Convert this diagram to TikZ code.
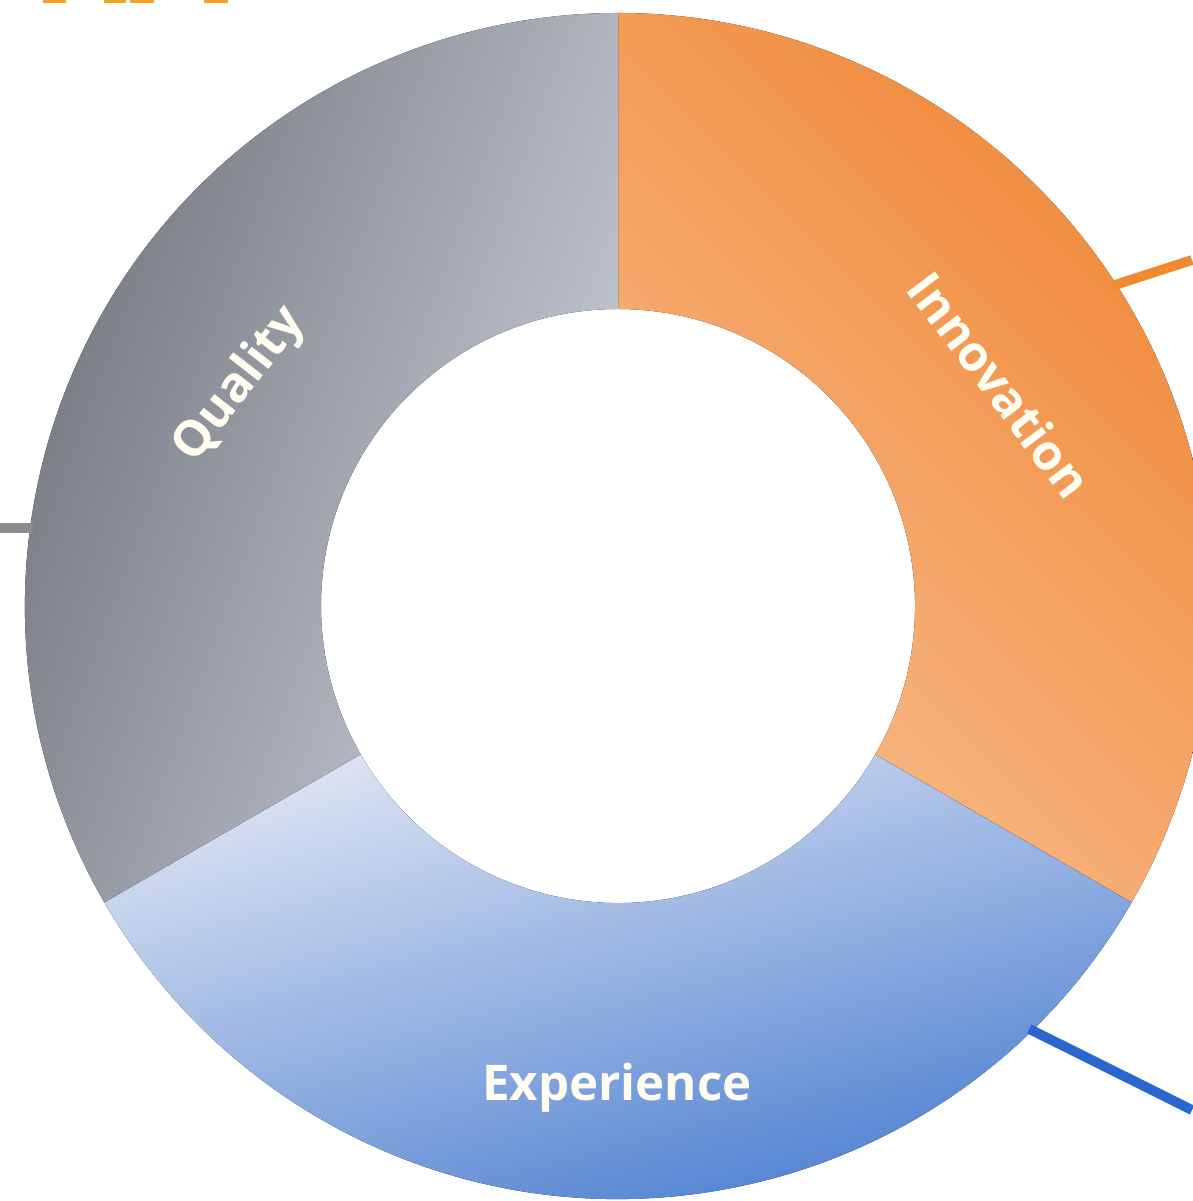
\documentclass[tikz,border=0pt]{standalone}
\usepackage{fontspec}
\setmainfont{Open Sans}

\definecolor{innoScuro}{HTML}{F08838}
\definecolor{innoChiaro}{HTML}{F8BC8C}
\definecolor{qualScuro}{HTML}{6A6D73}
\definecolor{qualChiaro}{HTML}{C9CEDA}
\definecolor{espChiaro}{HTML}{DAE2F2}
\definecolor{espScuro}{HTML}{3A72CC}
\definecolor{taccaArancio}{HTML}{F08A2E}
\definecolor{taccaGrigio}{HTML}{8A8C92}
\definecolor{taccaBlu}{HTML}{2A66D0}

\tikzset{
  etichetta/.style={text=white!94!yellow, font=\fontsize{14}{16}\selectfont\bfseries, inner sep=0pt},
  tacca/.style={line width=2.8pt}
}

\begin{document}
\begin{tikzpicture}

        \useasboundingbox (-6.18,-5.95) rectangle (5.74,6.06);

        % 1. Settore arancione (in alto a destra)
        \fill[top color=innoScuro, bottom color=innoChiaro, shading angle=-45]
            (90:5.93) arc (90:-30:5.93) -- (-30:2.97) arc (-30:90:2.97) -- cycle;

        % 2. Settore grigio (a sinistra)
        \fill[left color=qualScuro, right color=qualChiaro, shading angle=70]
            (210:5.93) arc (210:90:5.93) -- (90:2.97) arc (90:210:2.97) -- cycle;

        % 3. Settore blu (in basso)
        \fill[top color=espChiaro, bottom color=espScuro, shading angle=15]
            (-30:5.93) arc (-30:-150:5.93) -- (-150:2.97) arc (-150:-30:2.97) -- cycle;

        % 4. Etichette dei settori
        \node[etichetta, rotate=-53] (innovazione) at (3.82,2.21) {Innovation};
        \node[etichetta, rotate=52] (qualita) at (-3.78,2.21) {Quality};
        \node[etichetta] (esperienza) at (-0.01,-4.82) {Experience};

        % 5. Tacche che escono dal bordo esterno
        \coordinate (innoAttacco) at (32.9:5.90);
        \coordinate (innoFine) at (5.74,3.46);
        \coordinate (qualAttacco) at (172.4:5.90);
        \coordinate (qualFine) at (-6.18,0.78);
        \coordinate (espAttacco) at (-45.8:5.90);
        \coordinate (espFine) at (5.74,-5.04);
        \draw[tacca, taccaArancio] (innoAttacco) -- (innoFine);
        \draw[tacca, taccaGrigio] (qualAttacco) -- (qualFine);
        \draw[tacca, taccaBlu] (espAttacco) -- (espFine);

        % 6. Trattini arancioni tagliati in alto a sinistra
        \foreach \a/\b in {43/66,104/126,130/154,204/228}
            \fill[taccaArancio!80!yellow] (\a/100-6.18,6.03) rectangle (\b/100-6.18,6.06);
    \end{tikzpicture}
\end{document}
